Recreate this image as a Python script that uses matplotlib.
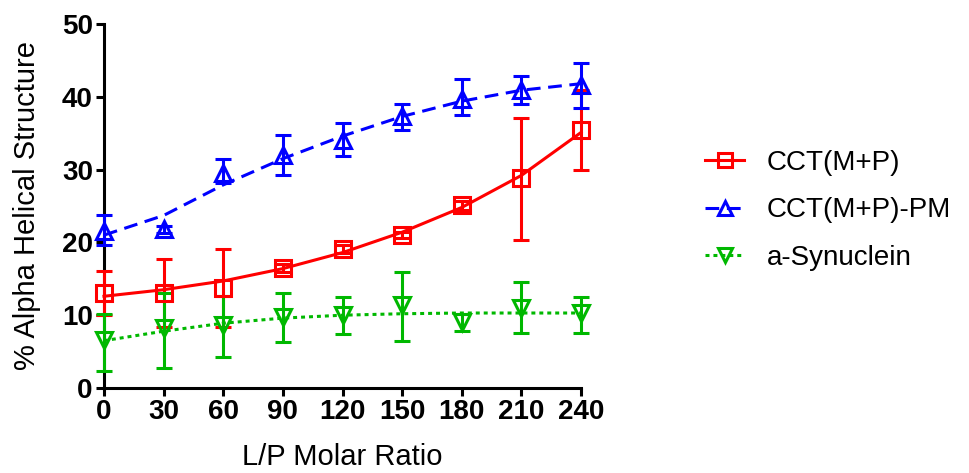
import numpy as np
import matplotlib
matplotlib.use("Agg")
import matplotlib.pyplot as plt
from matplotlib import font_manager
from matplotlib.lines import Line2D

# ---------------------------------------------------------------------------
# Data
# ---------------------------------------------------------------------------
lp_ratio = [0, 30, 60, 90, 120, 150, 180, 210, 240]

# CCT(M+P)
cct_mean = [13.0, 13.1, 13.8, 16.5, 19.1, 21.0, 25.1, 28.8, 35.4]
cct_lo = [10.0, 8.4, 8.4, 16.0, 18.6, 20.6, 24.5, 20.3, 29.9]
cct_hi = [16.1, 17.7, 19.1, 17.0, 19.6, 21.4, 25.7, 37.1, 40.9]
cct_fit = [12.6, 13.5, 14.7, 16.4, 18.6, 21.4, 24.8, 29.2, 35.1]

# CCT(M+P)-PM
pm_mean = [21.5, 21.8, 29.5, 32.0, 34.0, 37.4, 39.7, 40.9, 41.6]
pm_lo = [19.7, 21.3, 28.2, 29.2, 31.9, 35.5, 37.5, 39.0, 38.5]
pm_hi = [23.8, 22.3, 31.4, 34.8, 36.4, 39.0, 42.5, 42.8, 44.6]
pm_fit = [21.0, 23.7, 27.9, 31.5, 34.6, 37.3, 39.4, 40.9, 41.8]

# a-Synuclein
syn_mean = [6.6, 8.2, 8.7, 9.8, 10.0, 11.4, 9.1, 11.0, 10.3]
syn_lo = [2.4, 2.8, 4.2, 6.3, 7.4, 6.5, 7.8, 7.6, 7.6]
syn_hi = [10.2, 13.0, 12.6, 13.1, 12.5, 16.0, 10.2, 14.6, 12.5]
syn_fit = [6.5, 7.8, 8.9, 9.6, 10.0, 10.2, 10.3, 10.3, 10.3]

x_ticks = [0, 30, 60, 90, 120, 150, 180, 210, 240]
y_ticks = [0, 10, 20, 30, 40, 50]

# ---------------------------------------------------------------------------
# Style
# ---------------------------------------------------------------------------
installed = {f.name for f in font_manager.fontManager.ttflist}
BASE_FONT = "Liberation Sans" if "Liberation Sans" in installed else "DejaVu Sans"
plt.rcParams["font.family"] = BASE_FONT

RED = "#ff0000"
BLUE = "#0000ff"
GREEN = "#00b800"
LW = 2.2
MS = 12

series = [
    ("CCT(M+P)", cct_mean, cct_lo, cct_hi, cct_fit, RED, "s", "-"),
    ("CCT(M+P)-PM", pm_mean, pm_lo, pm_hi, pm_fit, BLUE, "^", (0, (4.5, 2.5))),
    ("a-Synuclein", syn_mean, syn_lo, syn_hi, syn_fit, GREEN, "v", (0, (1.3, 1.3))),
]

# ---------------------------------------------------------------------------
# Plot
# ---------------------------------------------------------------------------
fig = plt.figure(figsize=(9.7, 4.73), dpi=100)
ax = fig.add_axes([0.1072, 0.1797, 0.4918, 0.7696])

handles = []
for label, mean, lo, hi, fit, col, mk, ls in series:
    mean = np.array(mean)
    yerr = [mean - np.array(lo), np.array(hi) - mean]
    ax.plot(lp_ratio, fit, color=col, lw=LW, linestyle=ls, clip_on=False, zorder=3)
    ax.errorbar(lp_ratio, mean, yerr=yerr, fmt=mk, color=col, ms=MS,
                mfc="none", mec=col, mew=LW, elinewidth=LW, capsize=6,
                capthick=LW, clip_on=False, zorder=4)
    handles.append(Line2D([], [], color=col, lw=LW, linestyle=ls, marker=mk,
                          ms=MS - 2, mfc="none", mew=LW, label=label))

ax.set_xlim(0, 240)
ax.set_ylim(0, 50)
ax.set_xticks(x_ticks)
ax.set_yticks(y_ticks)
for s in ["top", "right"]:
    ax.spines[s].set_visible(False)
for s in ["left", "bottom"]:
    ax.spines[s].set_linewidth(LW)
ax.tick_params(axis="both", direction="out", length=6, width=LW, pad=2)

for lab in ax.get_xticklabels() + ax.get_yticklabels():
    lab.set_fontweight("bold")
    lab.set_fontsize(20)

ax.set_xlabel("L/P Molar Ratio", fontsize=21, labelpad=13)
ax.set_ylabel("% Alpha Helical Structure", fontsize=21, labelpad=15)

fig.legend(handles=handles, loc="center left", bbox_to_anchor=(0.7015, 0.555),
           frameon=False, fontsize=20, handlelength=1.4, handletextpad=0.8,
           labelspacing=0.77)

fig.savefig("out.png", dpi=100)
